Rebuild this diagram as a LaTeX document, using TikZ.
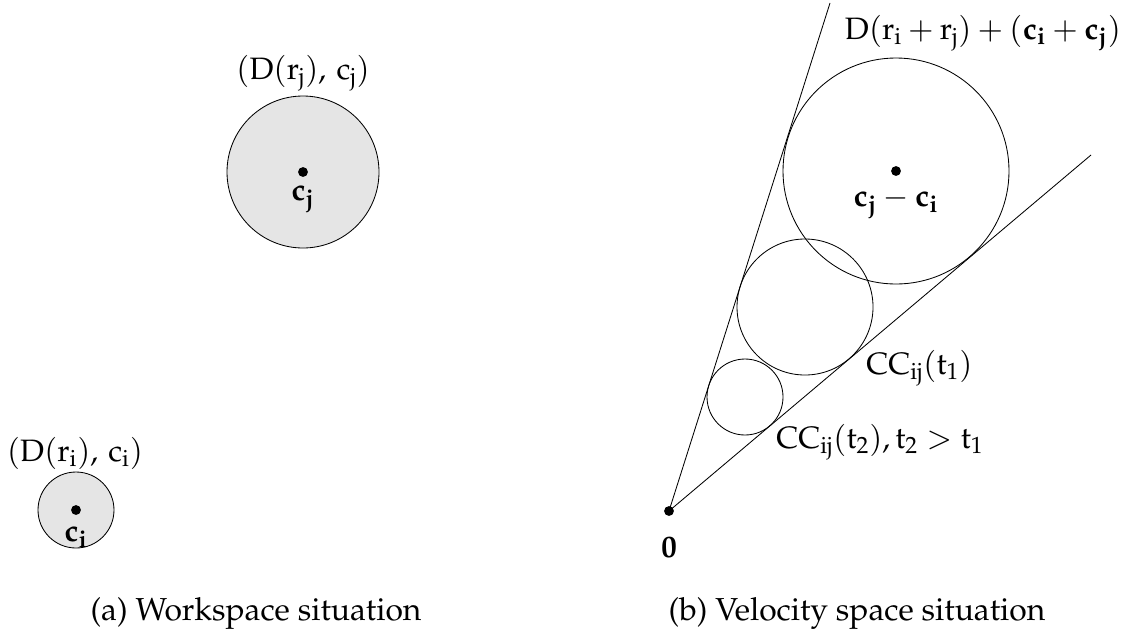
\documentclass[tikz,border=0pt]{standalone}
\usepackage[T1]{fontenc}
\usepackage{mathpazo}
\begin{document}
\begin{tikzpicture}[x=0.025cm,y=-0.025cm, line width=0.6pt,
  disc/.style={circle,draw,fill=black!10,inner sep=0pt,minimum size=#1*0.025cm},
  ring/.style={circle,draw,inner sep=0pt,minimum size=#1*0.025cm},
  dot/.style={circle,fill,inner sep=0pt,minimum size=7pt},
  lbl/.style={inner sep=0pt,font=\fontsize{22}{26}\selectfont},
  captxt/.style={inner sep=0pt,font=\fontsize{22.6}{27}\selectfont}]
\useasboundingbox (0,0) rectangle (1129,639);
% (a) workspace
\node[disc=152] (Dj) at (303,172) {};
\node[dot] (cj) at (303,172) {};
\node[lbl] (cjl) at (303,199) {$\mathbf{c_j}$};
\node[lbl] (lj) at (303,73) {$(\mathrm{D}(\mathrm{r_j}),\,\mathrm{c_j})$};
\node[disc=76] (Di) at (76,510) {};
\node[dot] (ci) at (76,510) {};
\node[lbl] (cil) at (76,537) {$\mathbf{c_i}$};
\node[lbl] (li) at (75,453) {$(\mathrm{D}(\mathrm{r_i}),\,\mathrm{c_i})$};
% (b) velocity space
\node[ring=226] (big) at (896,171) {};
\node[ring=136] (mid) at (805,307) {};
\node[ring=76] (small) at (745,397) {};
\node[dot] (O) at (669,511) {};
\node[lbl] (Ol) at (669,548) {$\mathbf{0}$};
\coordinate (L) at (830,3);
\coordinate (R) at (1091,155);
\draw (O.center) -- (L);
\draw (O.center) -- (R);
\node[dot] (cc) at (896,171) {};
\node[lbl] (ccl) at (896,203) {$\mathbf{c_j}-\mathbf{c_i}$};
\node[lbl] (bigl) at (983,33) {$\mathrm{D}(\mathrm{r_i}+\mathrm{r_j})+(\mathbf{c_i}+\mathbf{c_j})$};
\node[lbl,anchor=west] (t1) at (866,368) {$\mathrm{CC}_{\mathrm{ij}}(\mathrm{t}_1)$};
\node[lbl,anchor=west] (t2) at (776,442) {$\mathrm{CC}_{\mathrm{ij}}(\mathrm{t}_2),\mathrm{t}_2>\mathrm{t}_1$};
% captions
\node[captxt] (capa) at (256,613) {(a) Workspace situation};
\node[captxt] (capb) at (857,613) {(b) Velocity space situation};
\end{tikzpicture}
\end{document}
